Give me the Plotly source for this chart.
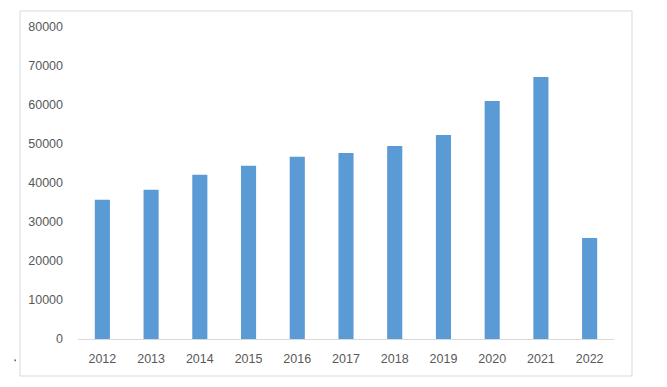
import plotly.graph_objects as go

years = ["2012", "2013", "2014", "2015", "2016", "2017", "2018", "2019", "2020", "2021", "2022"]
values = [35700, 38300, 42100, 44400, 46700, 47700, 49500, 52300, 61000, 67200, 25900]
y_ticks = [0, 10000, 20000, 30000, 40000, 50000, 60000, 70000, 80000]

W, H = 667, 387
L, R, T, B = 78, 614, 27, 339

fig = go.Figure(go.Bar(x=years, y=values, marker_color="#5b9bd5", marker_line_width=0))

fig.update_layout(
    width=W, height=H,
    margin=dict(l=L, r=W - R, t=T, b=H - B),
    paper_bgcolor="white", plot_bgcolor="white",
    bargap=0.69,
    showlegend=False,
    font=dict(family="Liberation Sans, Arial, sans-serif", size=12, color="#595959"),
)
fig.update_xaxes(
    type="category", showgrid=False, showline=True, linecolor="#d9d9d9", linewidth=1,
    ticks="", ticklabelstandoff=8, tickfont=dict(size=12.5, color="#595959"),
)
fig.update_yaxes(
    range=[0, 80000], tickvals=y_ticks, ticktext=[str(v) for v in y_ticks],
    showgrid=False, zeroline=False, showline=False, ticks="",
    ticklabelstandoff=14, tickfont=dict(size=12.5, color="#595959"),
)
# chart area border
fig.add_shape(type="rect", xref="paper", yref="paper",
              x0=(20 - L) / (R - L), x1=(632 - L) / (R - L),
              y0=(B - 376) / (B - T), y1=(B - 11) / (B - T),
              line=dict(color="#d9d9d9", width=1), fillcolor="rgba(0,0,0,0)", layer="below")
# stray mark bottom-left
fig.add_annotation(text="‘", xref="paper", yref="paper",
                   x=(12 - L) / (R - L), y=(B - 371) / (B - T),
                   showarrow=False, font=dict(size=10, color="#000000"))

fig.write_html("out.html", config={"displayModeBar": False},
               post_script="document.body.style.margin='0';document.body.style.overflow='hidden';")
